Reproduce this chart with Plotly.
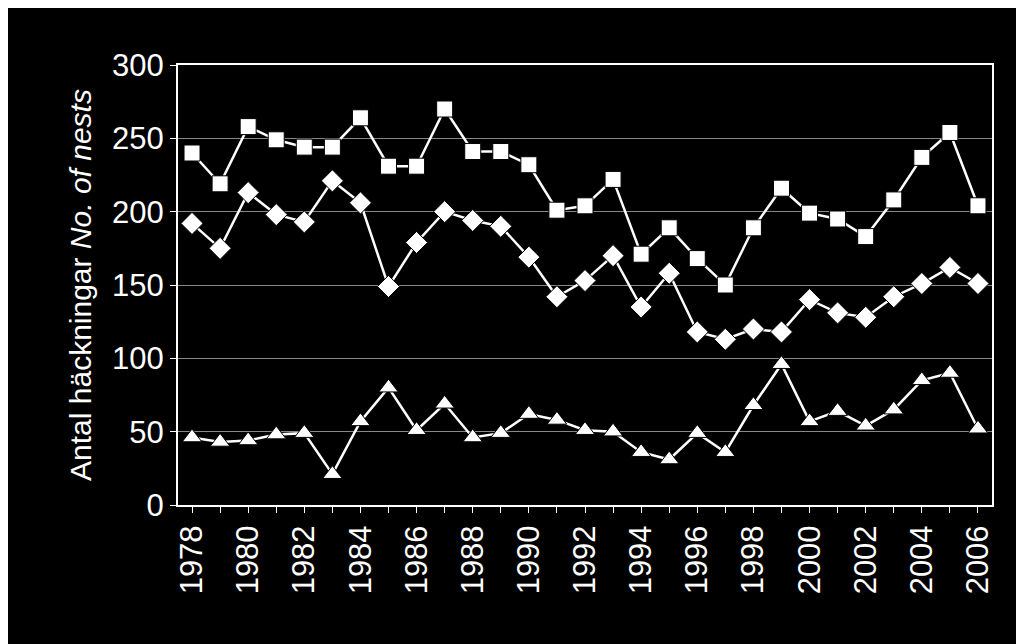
import plotly.graph_objects as go

years = list(range(1978, 2007))
squares = [240,219,258,249,244,244,264,231,231,270,241,241,232,201,204,222,171,189,168,150,189,216,199,195,183,208,237,254,204]
diamonds = [192,175,213,198,193,221,206,149,179,200,194,190,169,142,153,170,135,158,118,113,120,118,140,131,128,142,151,162,151]
triangles = [46,43,44,48,49,21,57,80,51,69,46,49,62,58,51,50,36,31,49,36,68,96,57,64,54,65,85,90,52]
tick_years = list(range(1978, 2007, 2))

fig = go.Figure()
for vals, sym, sz in [(squares, "square", 16), (diamonds, "diamond", 17), (triangles, "triangle-up", 17)]:
    fig.add_trace(go.Scatter(x=years, y=vals, mode="lines+markers",
                             line=dict(color="white", width=2.5),
                             marker=dict(symbol=sym, size=sz, color="white", line=dict(color="black", width=1)),
                             showlegend=False, cliponaxis=False))

fig.update_layout(
    width=1024, height=644, paper_bgcolor="black", plot_bgcolor="black",
    margin=dict(l=170, r=40, t=57, b=147),
    font=dict(family="Liberation Sans, Arial", color="white", size=31),
)
fig.update_xaxes(range=[1977.5, 2006.5], tickmode="array", tickvals=tick_years,
                 ticktext=[str(y) for y in tick_years], tickangle=-90,
                 showgrid=False, showline=True, linecolor="white", linewidth=2, mirror=True,
                 ticks="outside", tickcolor="white", ticklen=6,
                 minor=dict(ticks="outside", dtick=1, tickcolor="white", ticklen=6), zeroline=False)
fig.update_yaxes(range=[0, 300], dtick=50, showgrid=True, gridcolor="#888888", gridwidth=1,
                 showline=True, linecolor="white", linewidth=2, mirror=True,
                 ticks="outside", tickcolor="white", ticklen=6, zeroline=False,
                 title=dict(text="Antal häckningar <i>No. of nests</i>", font=dict(size=30), standoff=12))
fig.write_html("out.html")
